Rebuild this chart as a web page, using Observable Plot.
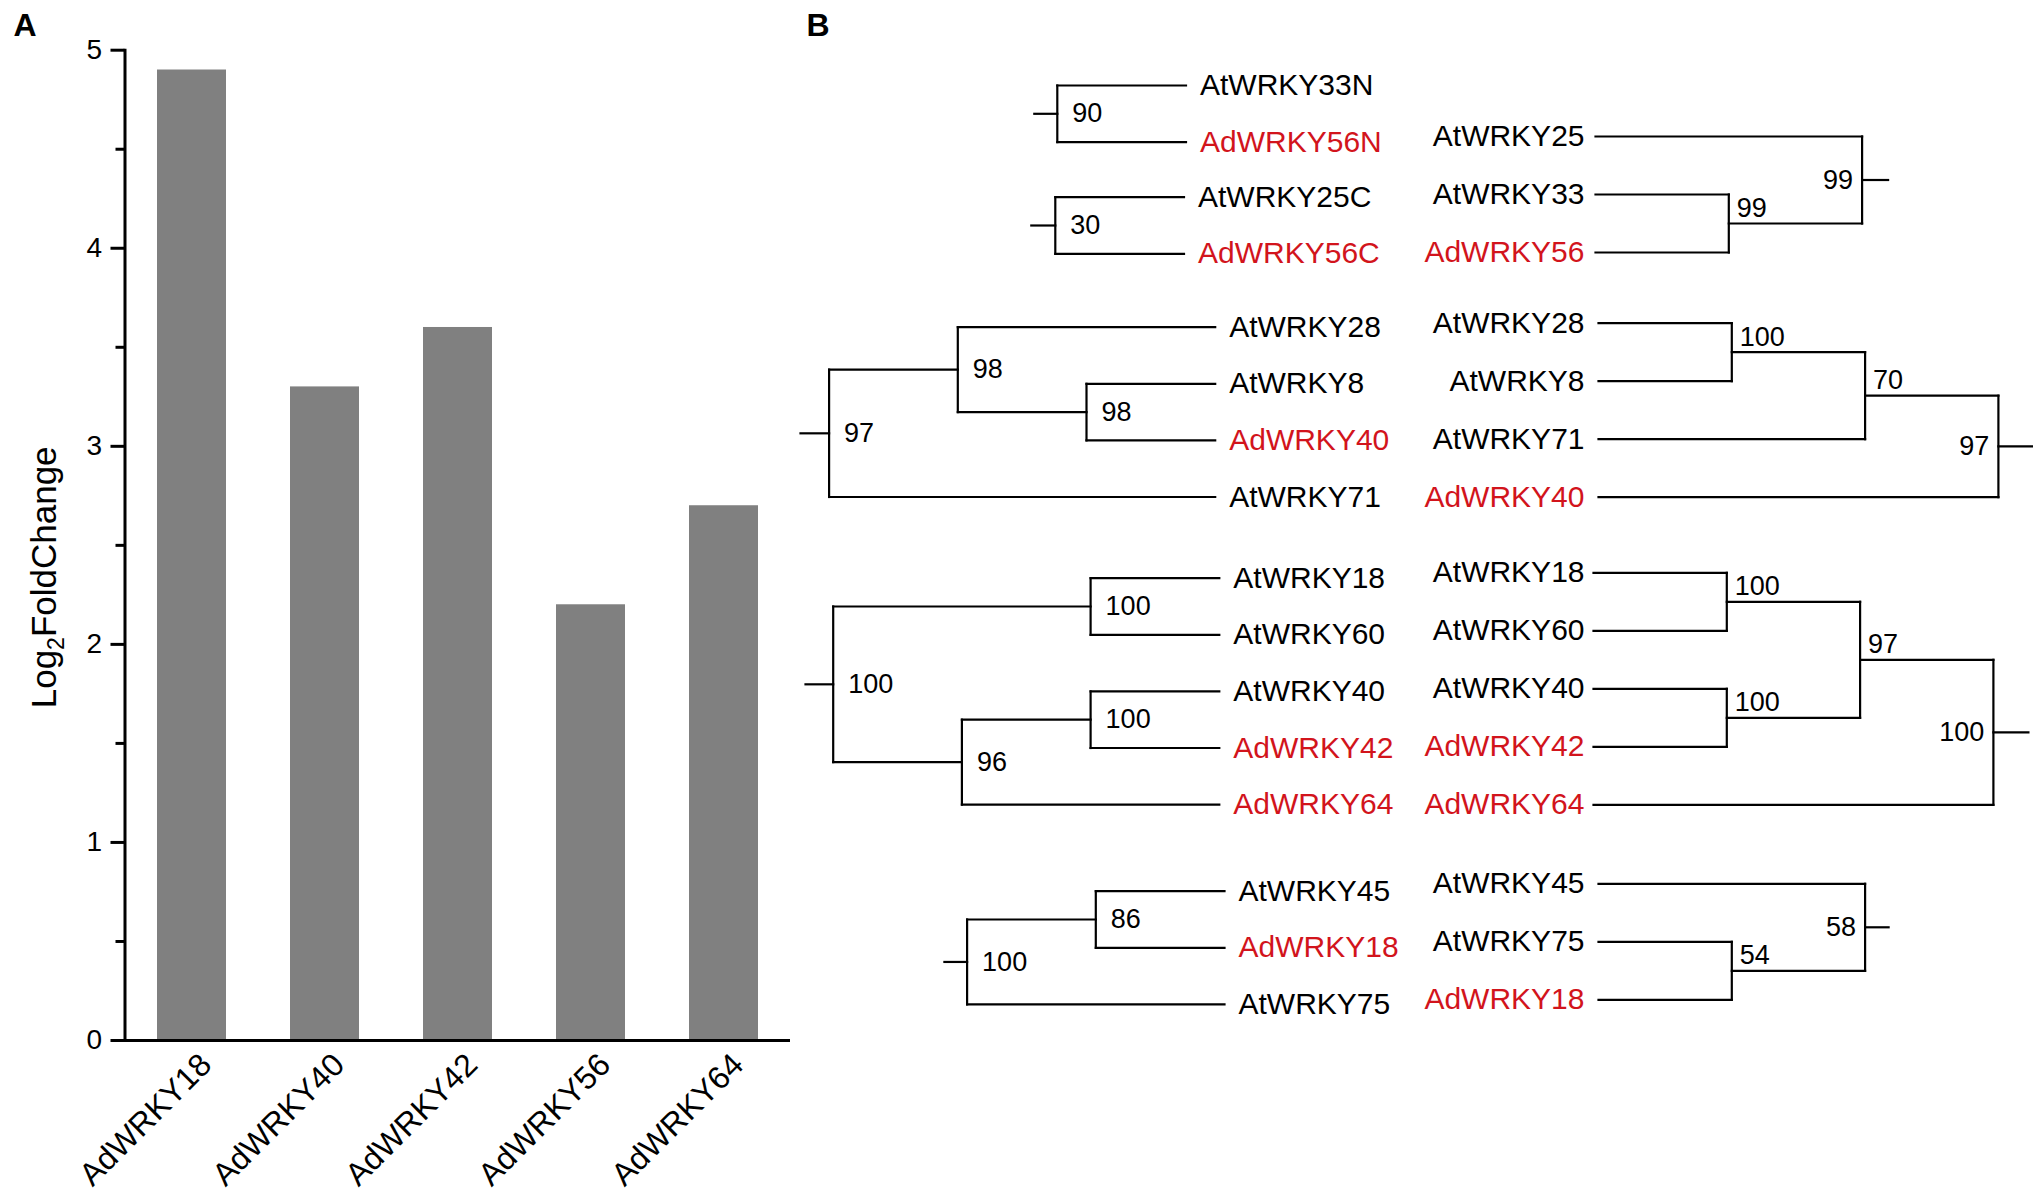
<!DOCTYPE html>
<html>
<head>
<meta charset="utf-8">
<script src="https://cdn.jsdelivr.net/npm/d3@7"></script>
<script src="https://cdn.jsdelivr.net/npm/@observablehq/plot@0.6"></script>
<style>
  html, body { margin: 0; padding: 0; background: #fff; }
  #fig { position: relative; width: 2033px; height: 1196px; overflow: hidden; background: #fff; }
  #panelA, #panelB { position: absolute; top: 0; }
  #panelA { left: 0; }
  #panelB { left: 795px; }
  svg { display: block; }
</style>
</head>
<body>
<div id="fig"><div id="panelA"></div><div id="panelB"></div></div>
<script>
// ---------------- Panel A data ----------------
const genes = ["AdWRKY18", "AdWRKY40", "AdWRKY42", "AdWRKY56", "AdWRKY64"];
const log2FoldChange = [4.9, 3.3, 3.6, 2.2, 2.7];
const majorTicks = [0, 1, 2, 3, 4, 5];
const minorTicks = [0.5, 1.5, 2.5, 3.5, 4.5];
const yLabel = "Log2FoldChange";

// ---------------- Panel B data (cladograms) ----------------
// internal node = [bootstrap, child, child]; leaf = gene name
const leftTrees = [
  [90, "AtWRKY33N", "AdWRKY56N"],
  [30, "AtWRKY25C", "AdWRKY56C"],
  [97, [98, "AtWRKY28", [98, "AtWRKY8", "AdWRKY40"]], "AtWRKY71"],
  [100, [100, "AtWRKY18", "AtWRKY60"], [96, [100, "AtWRKY40", "AdWRKY42"], "AdWRKY64"]],
  [100, [86, "AtWRKY45", "AdWRKY18"], "AtWRKY75"]
];
const rightTrees = [
  [99, "AtWRKY25", [99, "AtWRKY33", "AdWRKY56"]],
  [97, [70, [100, "AtWRKY28", "AtWRKY8"], "AtWRKY71"], "AdWRKY40"],
  [100, [97, [100, "AtWRKY18", "AtWRKY60"], [100, "AtWRKY40", "AdWRKY42"]], "AdWRKY64"],
  [58, "AtWRKY45", [54, "AtWRKY75", "AdWRKY18"]]
];
const highlightPrefix = "Ad"; // kiwifruit genes shown in red

// ---------------- layout (positions / styles) ----------------
const FONT = "'Liberation Sans', Arial, Helvetica, sans-serif";
const RED = "#d2141c";
const leftLayout = [
  {leafX: 1185.5, top: 85,    stub: 23},
  {leafX: 1183.5, top: 196.7, stub: 24},
  {leafX: 1214.7, top: 326.7, stub: 28.6},
  {leafX: 1218.8, top: 577.7, stub: 27.7},
  {leafX: 1224,   top: 890.7, stub: 22.7}
];
const rightLayout = [
  {leafX: 1595, top: 136,   stub: 26},
  {leafX: 1598, top: 322.7, stub: 35},
  {leafX: 1593, top: 572.3, stub: 35},
  {leafX: 1598, top: 883.3, stub: 23.5}
];
const LEFT = {step: 128.7, rowStep: 56.6, labelGap: 14};
const RIGHT = {step: 133.3, rowStep: 58, labelX: 1584};

function layoutTree(tree, side, L, out) {
  let row = 0;
  const sgn = side === "left" ? -1 : 1;
  function walk(node) {
    if (typeof node === "string") {
      const y = L.top + row++ * L.rowStep;
      out.labels.push({
        x: side === "left" ? L.leafX + L.labelGap : L.labelX,
        y, name: node,
        color: node.startsWith(highlightPrefix) ? RED : "#000"
      });
      return {x: L.leafX, y, h: 0};
    }
    const [support, ...kids] = node;
    const ch = kids.map(walk);
    const h = Math.max(...ch.map(c => c.h)) + 1;
    const x = L.leafX + sgn * h * L.step;
    const y = (ch[0].y + ch[ch.length - 1].y) / 2;
    out.segs.push({x1: x, y1: ch[0].y, x2: x, y2: ch[ch.length - 1].y});
    for (const c of ch) out.segs.push({x1: x, y1: c.y, x2: c.x, y2: c.y});
    const n = {x, y, h, support: String(support), root: false};
    out.nodes.push(n);
    return n;
  }
  const root = walk(tree);
  root.root = true;
  out.segs.push({x1: root.x, y1: root.y, x2: root.x + sgn * L.stub, y2: root.y});
}

const L = {segs: [], labels: [], nodes: []};
const R = {segs: [], labels: [], nodes: []};
leftTrees.forEach((t, i) => layoutTree(t, "left", {...LEFT, ...leftLayout[i]}, L));
rightTrees.forEach((t, i) => layoutTree(t, "right", {...RIGHT, ...rightLayout[i]}, R));

// ---------------- Panel A ----------------
const bars = genes.map((gene, i) => ({gene, value: log2FoldChange[i]}));
const panelA = Plot.plot({
  width: 795, height: 1196,
  marginLeft: 124.5, marginRight: 5, marginTop: 49.7, marginBottom: 156,
  style: {fontFamily: FONT, background: "transparent", color: "#000", overflow: "visible"},
  x: {domain: genes, paddingInner: 0.482, paddingOuter: 0.238, axis: null},
  y: {domain: [0, 5], axis: null},
  marks: [
    Plot.barY(bars, {x: "gene", y: "value", fill: "#808080"}),
    Plot.axisY({ticks: minorTicks, tickSize: 9, tickFormat: () => "", strokeWidth: 3, label: null}),
    Plot.axisY({ticks: majorTicks, tickSize: 14, tickPadding: 9, tickFormat: d => String(d), fontSize: 28, strokeWidth: 3, label: null}),
    Plot.ruleY([0], {strokeWidth: 3}),
    Plot.frame({anchor: "left", strokeWidth: 3}),
    Plot.text(genes, {x: d => d, frameAnchor: "bottom", rotate: -45, textAnchor: "end", lineAnchor: "middle", dx: 14, dy: 19, fontSize: 32}),
    Plot.text([yLabel], {frameAnchor: "left", rotate: -90, textAnchor: "middle", lineAnchor: "middle", dx: -80, dy: 32, fontSize: 35}),
    Plot.text(["A"], {frameAnchor: "top-left", textAnchor: "start", lineAnchor: "bottom", dx: -111.5, dy: -14.7, fontSize: 32, fontWeight: "bold"})
  ]
});
// subscript 2 in the axis title
panelA.querySelectorAll("text").forEach(t => {
  if (t.textContent === yLabel) {
    const ns = "http://www.w3.org/2000/svg";
    t.textContent = "";
    t.appendChild(document.createTextNode("Log"));
    const s = document.createElementNS(ns, "tspan");
    s.setAttribute("font-size", "23");
    s.setAttribute("dy", "8");
    s.textContent = "2";
    t.appendChild(s);
    const r = document.createElementNS(ns, "tspan");
    r.setAttribute("dy", "-8");
    r.textContent = "FoldChange";
    t.appendChild(r);
  }
});
document.getElementById("panelA").appendChild(panelA);

// ---------------- Panel B ----------------
const segs = L.segs.concat(R.segs);
const panelB = Plot.plot({
  width: 1238, height: 1196,
  margin: 0,
  style: {fontFamily: FONT, background: "transparent", color: "#000"},
  x: {domain: [795, 2033], range: [0, 1238], axis: null},
  y: {domain: [0, 1196], range: [0, 1196], axis: null},
  color: {type: "identity"},
  marks: [
    Plot.link(segs, {x1: "x1", y1: "y1", x2: "x2", y2: "y2", stroke: "#000", strokeWidth: 2.2, strokeLinecap: "square"}),
    Plot.text(L.labels, {x: "x", y: "y", text: "name", fill: "color", textAnchor: "start", lineAnchor: "middle", fontSize: 30}),
    Plot.text(R.labels, {x: "x", y: "y", text: "name", fill: "color", textAnchor: "end", lineAnchor: "middle", fontSize: 30}),
    Plot.text(L.nodes, {x: "x", y: "y", text: "support", textAnchor: "start", lineAnchor: "middle", dx: 15, fontSize: 27}),
    Plot.text(R.nodes.filter(d => !d.root), {x: "x", y: "y", text: "support", textAnchor: "start", lineAnchor: "middle", dx: 8, dy: -15, fontSize: 27}),
    Plot.text(R.nodes.filter(d => d.root), {x: "x", y: "y", text: "support", textAnchor: "end", lineAnchor: "middle", dx: -9, fontSize: 27}),
    Plot.text(["B"], {frameAnchor: "top-left", textAnchor: "start", lineAnchor: "bottom", dx: 11, dy: 35, fontSize: 32, fontWeight: "bold"})
  ]
});
document.getElementById("panelB").appendChild(panelB);
</script>
</body>
</html>
